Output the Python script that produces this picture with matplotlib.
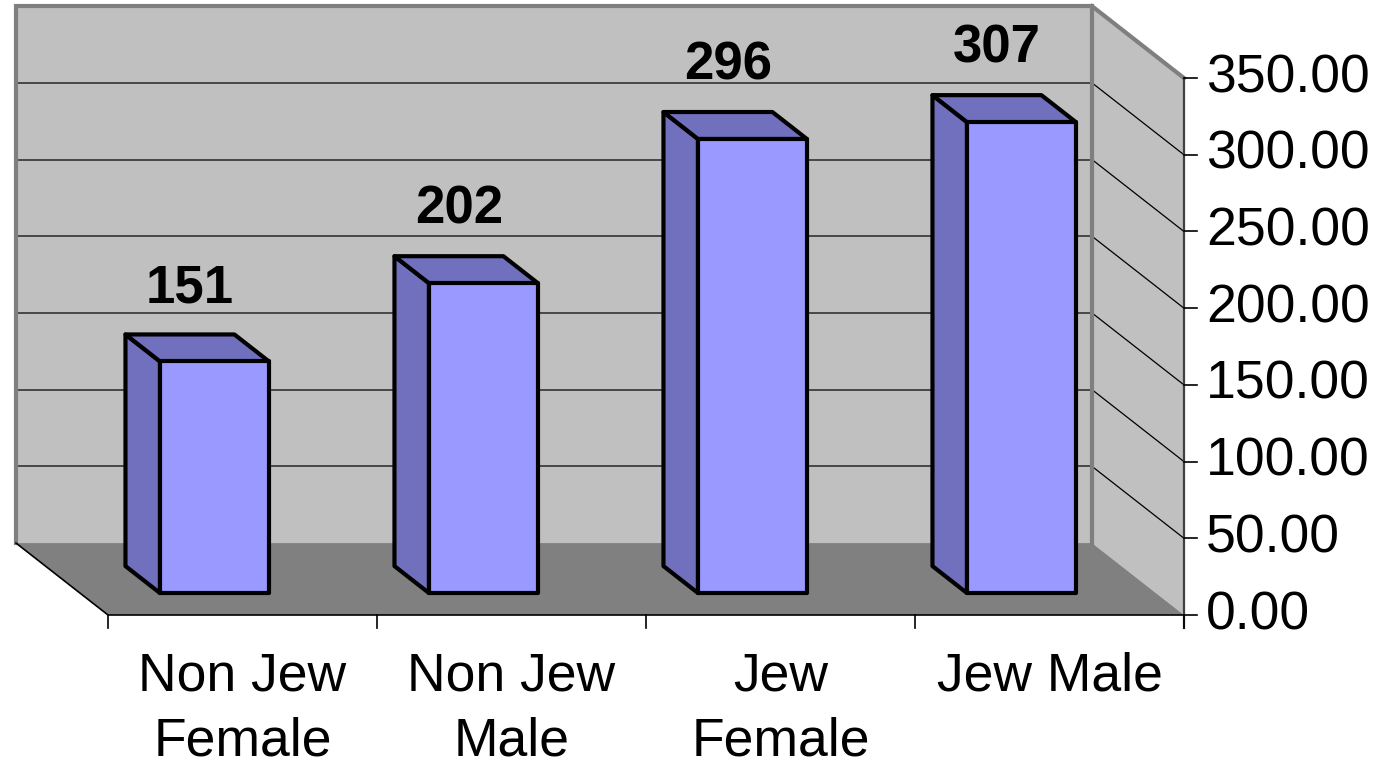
import matplotlib
matplotlib.use('Agg')
import matplotlib.pyplot as plt
from matplotlib.patches import Polygon

plt.rcParams['font.family'] = ['Liberation Sans', 'DejaVu Sans']

# data
categories = ['Non Jew\nFemale', 'Non Jew\nMale', 'Jew\nFemale', 'Jew Male']
values = [151, 202, 296, 307]
value_labels = ['151', '202', '296', '307']
yticks = [0, 50, 100, 150, 200, 250, 300, 350]

# 3D look: depth shift (x in category units, y in value units)
DX = 0.342
DY = 46.9
Y_MAX = 350
BAR_HALF = 0.2025
D_FRONT = 0.305
D_BACK = 0.68


def P(x, v, d):
    # project a point (x, value, depth) onto the flat axes
    return (x - d * DX, v + d * DY)


fig = plt.figure(figsize=(13.79, 7.68), dpi=100)
ax = fig.add_axes([0, 0, 1, 1])
ax.set_xlim(-108 / 269, (1379 - 108) / 269)
ax.set_ylim(-(768 - 615) / 1.534, 615 / 1.534)
ax.axis('off')

n = len(values)

# back wall
back = [P(0, 0, 1), P(n, 0, 1), P(n, Y_MAX, 1), P(0, Y_MAX, 1)]
ax.add_patch(Polygon(back, closed=True, facecolor='#c0c0c0', edgecolor='none', zorder=1))
# side wall
side = [P(n, 0, 0), P(n, Y_MAX, 0), P(n, Y_MAX, 1), P(n, 0, 1)]
ax.add_patch(Polygon(side, closed=True, facecolor='#c0c0c0', edgecolor='none', zorder=1))
# floor
floor = [P(0, 0, 0), P(n, 0, 0), P(n, 0, 1), P(0, 0, 1)]
ax.add_patch(Polygon(floor, closed=True, facecolor='#808080', edgecolor='none', zorder=2))

# gridlines
for v in yticks[1:-1]:
    a, b = P(0, v, 1), P(n, v, 1)
    ax.plot([a[0], b[0]], [a[1], b[1]], color='#474747', lw=1.4, zorder=1.5)
    c = P(n, v, 0)
    ax.plot([b[0], c[0]], [b[1], c[1]], color='black', lw=0.9, zorder=1.5)

# wall borders
border = [P(0, 0, 1), P(0, Y_MAX, 1), P(n, Y_MAX, 1), P(n, 0, 1)]
ax.plot([p[0] for p in border], [p[1] for p in border], color='#7f7f7f', lw=3,
        solid_joinstyle='miter', zorder=3)
top_edge = [P(n, Y_MAX, 1), P(n, Y_MAX, 0)]
ax.plot([p[0] for p in top_edge], [p[1] for p in top_edge], color='#7f7f7f', lw=3, zorder=3)

# floor edges
fl = [P(0, 0, 1), P(0, 0, 0), P(n, 0, 0)]
ax.plot([p[0] for p in fl], [p[1] for p in fl], color='black', lw=1.2, zorder=3)

# value axis
ax.plot([P(n, 0, 0)[0]] * 2, [-8.5, Y_MAX], color='#404040', lw=1.6, zorder=3)
for v in yticks:
    x0, y0 = P(n, v, 0)
    ax.plot([x0, x0 + 0.05], [y0, y0], color='black', lw=1.2, zorder=3)
    ax.text(x0 + 0.082, y0, '%.2f' % v, ha='left', va='center', fontsize=38.5, color='black')

# category axis ticks and labels
for k in range(n + 1):
    x0, y0 = P(k, 0, 0)
    ax.plot([x0, x0], [y0, y0 - 8.5], color='black', lw=1.2, zorder=3)
for i, lab in enumerate(categories):
    ax.text(i + 0.5, -23.7, lab, ha='center', va='top', fontsize=38.5,
            linespacing=1.38, color='black')

# bars
for i, v in enumerate(values):
    xl = i + 0.5 - BAR_HALF
    xr = i + 0.5 + BAR_HALF
    left_face = [P(xl, 0, D_FRONT), P(xl, v, D_FRONT), P(xl, v, D_BACK), P(xl, 0, D_BACK)]
    top_face = [P(xl, v, D_FRONT), P(xr, v, D_FRONT), P(xr, v, D_BACK), P(xl, v, D_BACK)]
    front_face = [P(xl, 0, D_FRONT), P(xr, 0, D_FRONT), P(xr, v, D_FRONT), P(xl, v, D_FRONT)]
    for face, col in [(left_face, '#7070bf'), (top_face, '#7070bf'), (front_face, '#9999ff')]:
        ax.add_patch(Polygon(face, closed=True, facecolor=col, edgecolor='black',
                             lw=3.0, joinstyle='round', zorder=4))
    lx, ly = P(i + 0.5, v, 0.57)
    ax.text(lx, v + D_BACK * DY + 21, value_labels[i], ha='center', va='baseline',
            fontsize=38, fontweight='bold', color='black', zorder=5)

fig.savefig('out.png', dpi=100)
